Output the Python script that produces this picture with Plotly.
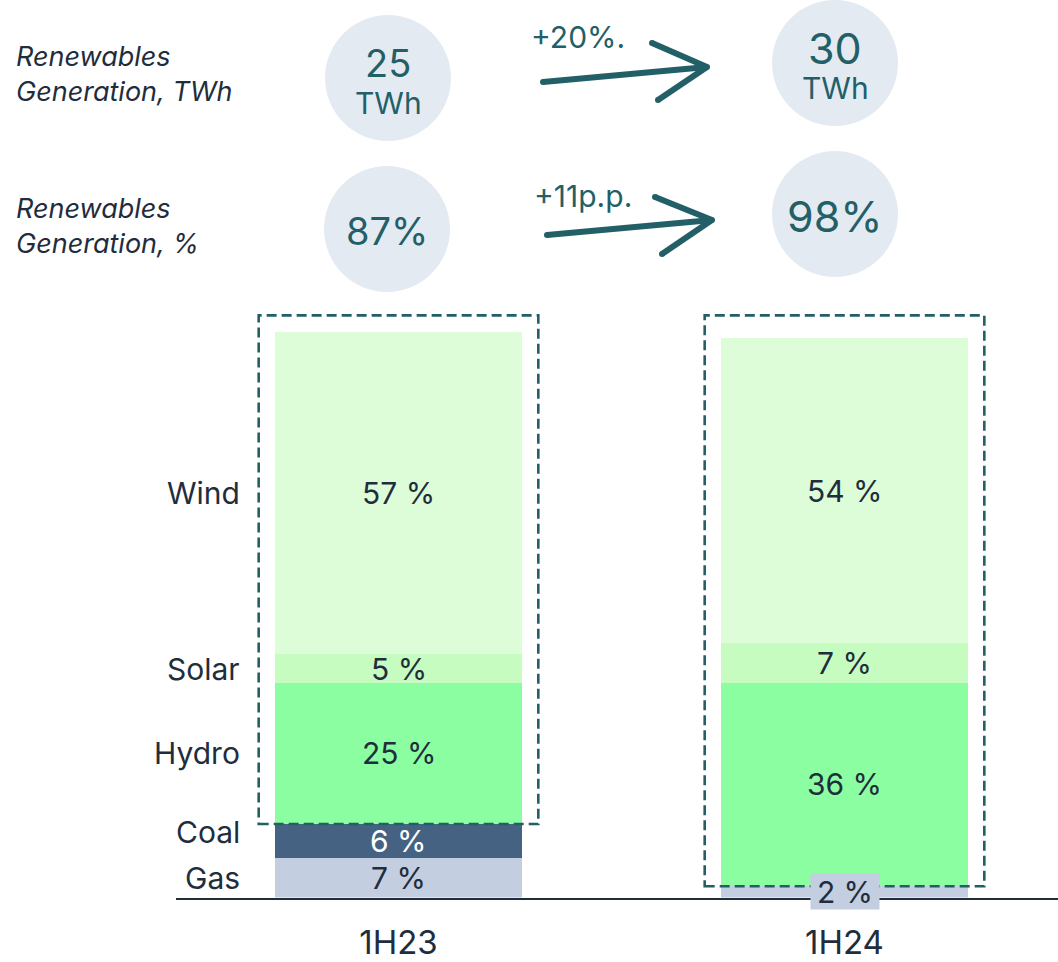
import plotly.graph_objects as go

# ---- data -------------------------------------------------------------
periods = ["1H23", "1H24"]
sources = ["Gas", "Coal", "Hydro", "Solar", "Wind"]  # stacked bottom -> top
share = {
    "Gas":   [7, 2],
    "Coal":  [6, 0],
    "Hydro": [25, 36],
    "Solar": [5, 7],
    "Wind":  [57, 54],
}
renewables = ["Hydro", "Solar", "Wind"]

gen_twh = ["25", "30"]
gen_pct = ["87%", "98%"]
twh_change = "+20%."
pct_change = "+11p.p."

# ---- style ------------------------------------------------------------
W, H = 1058, 962
FONT = "Inter"
INK = "#1f2d3d"
TEAL = "#235f67"
BUBBLE = "#e4eaf2"
colors = {
    "Gas": "#c3cee0",
    "Coal": "#456283",
    "Hydro": "#8afea1",
    "Solar": "#c7fcc0",
    "Wind": "#ddfdd9",
}
label_color = {"Coal": "white"}
label_shift = {"Coal": 9}

PLOT_LEFT, PLOT_BOTTOM = 176, 897.5
PX_PER_PCT = 5.652
PX_PER_CAT = 446
FIRST_CENTER = 398.5
BAR_W = 247 / PX_PER_CAT


def fx(p):
    return p / W


def fy(p):
    return 1 - p / H


x_lo = -(FIRST_CENTER - PLOT_LEFT) / PX_PER_CAT
x_hi = x_lo + (W - PLOT_LEFT) / PX_PER_CAT
y_hi = PLOT_BOTTOM / PX_PER_PCT

fig = go.Figure()
for s in sources:
    fig.add_trace(go.Bar(
        x=periods, y=share[s], name=s,
        marker=dict(color=colors[s], line=dict(width=0)),
        width=BAR_W, hoverinfo="skip",
    ))

annotations = []
shapes = []


def note(**kw):
    kw.setdefault("showarrow", False)
    kw.setdefault("yanchor", "middle")
    kw.setdefault("xanchor", "center")
    annotations.append(kw)


# value labels inside each segment, series names beside the first bar
for i, p in enumerate(periods):
    base = 0
    for s in sources:
        v = share[s][i]
        mid = base + v / 2
        if v:
            small = v < 4
            extra = dict(bgcolor=colors[s], borderpad=3, width=62, height=29) if small else {}
            note(
                x=p, y=mid, xref="x", yref="y", text=f"{v} %",
                font=dict(family=FONT, size=30, color=label_color.get(s, INK)),
                **extra,
            )
        if i == 0:
            note(
                x=fx(242), y=mid, xref="paper", yref="y", text=s,
                xanchor="right", yshift=label_shift.get(s, 0),
                font=dict(family=FONT, size=30, color=INK),
            )
        base += v

# dashed frame around the renewable part of each bar
for i, p in enumerate(periods):
    bottom = share["Gas"][i] + share["Coal"][i]
    shapes.append(dict(
        type="rect", xref="x", yref="y",
        x0=i - 0.3135, x1=i + 0.3135, y0=bottom, y1=103,
        line=dict(color=TEAL, width=2.6, dash="10px,5px"),
        fillcolor="rgba(0,0,0,0)", layer="above",
    ))

# headline rows: bubbles, arrows and row titles
rows = [
    dict(title="Renewables<br>Generation, TWh", title_y=74,
         left=(388, 78), right=(835, 63), vals=gen_twh, unit="TWh",
         change=twh_change, change_xy=(578, 37),
         arrow=[(543, 82), (707, 67), (652, 43), (658, 100)]),
    dict(title="Renewables<br>Generation, %", title_y=226,
         left=(387, 229), right=(835, 214), vals=gen_pct, unit=None,
         change=pct_change, change_xy=(583, 196),
         arrow=[(547, 235), (712, 220), (655, 197), (662, 254)]),
]
R = 63
for row in rows:
    note(
        x=fx(14), y=fy(row["title_y"]), xref="paper", yref="paper",
        text=row["title"], xanchor="left", align="left",
        font=dict(family=FONT, size=27, color=INK, style="italic"),
    )
    for (cx, cy), val, big in zip([row["left"], row["right"]], row["vals"], [38, 43]):
        shapes.append(dict(
            type="circle", xref="paper", yref="paper",
            x0=fx(cx - R), x1=fx(cx + R), y0=fy(cy + R), y1=fy(cy - R),
            fillcolor=BUBBLE, line=dict(width=0), layer="below",
        ))
        if row["unit"]:
            note(
                x=fx(cx), y=fy(cy - 15), xref="paper", yref="paper", text=val,
                font=dict(family=FONT, size=big, color=TEAL),
            )
            note(
                x=fx(cx), y=fy(cy + 25), xref="paper", yref="paper",
                text=row["unit"], font=dict(family=FONT, size=30, color=TEAL),
            )
        else:
            note(
                x=fx(cx), y=fy(cy + 2), xref="paper", yref="paper", text=val,
                font=dict(family=FONT, size=big, color=TEAL),
            )
    ax, ay = row["change_xy"]
    note(
        x=fx(ax), y=fy(ay), xref="paper", yref="paper", text=row["change"],
        font=dict(family=FONT, size=30, color=TEAL),
    )
    (t0, t1, h1, h2) = row["arrow"]
    for a, b in [(t0, t1), (h1, t1), (h2, t1)]:
        shapes.append(dict(
            type="line", xref="paper", yref="paper",
            x0=fx(a[0]), y0=fy(a[1]), x1=fx(b[0]), y1=fy(b[1]),
            line=dict(color=TEAL, width=6),
        ))
    for (qx, qy) in [t0, t1, h1, h2]:
        shapes.append(dict(
            type="circle", xref="paper", yref="paper",
            x0=fx(qx - 3), x1=fx(qx + 3), y0=fy(qy + 3), y1=fy(qy - 3),
            fillcolor=TEAL, line=dict(width=0),
        ))

fig.update_layout(
    width=W, height=H,
    margin=dict(l=0, r=0, t=0, b=0, autoexpand=False),
    barmode="stack",
    showlegend=False,
    plot_bgcolor="white", paper_bgcolor="white",
    annotations=annotations, shapes=shapes,
    xaxis=dict(
        domain=[fx(PLOT_LEFT), 1], range=[x_lo, x_hi],
        showline=True, linecolor=INK, linewidth=2,
        showgrid=False, zeroline=False, ticks="",
        tickfont=dict(family=FONT, size=33, color=INK),
        ticklabelstandoff=15, automargin=False,
    ),
    yaxis=dict(
        domain=[fy(PLOT_BOTTOM), 1], range=[0, y_hi],
        visible=False, showgrid=False, zeroline=False, automargin=False,
    ),
)

fig.write_html("out.html")
